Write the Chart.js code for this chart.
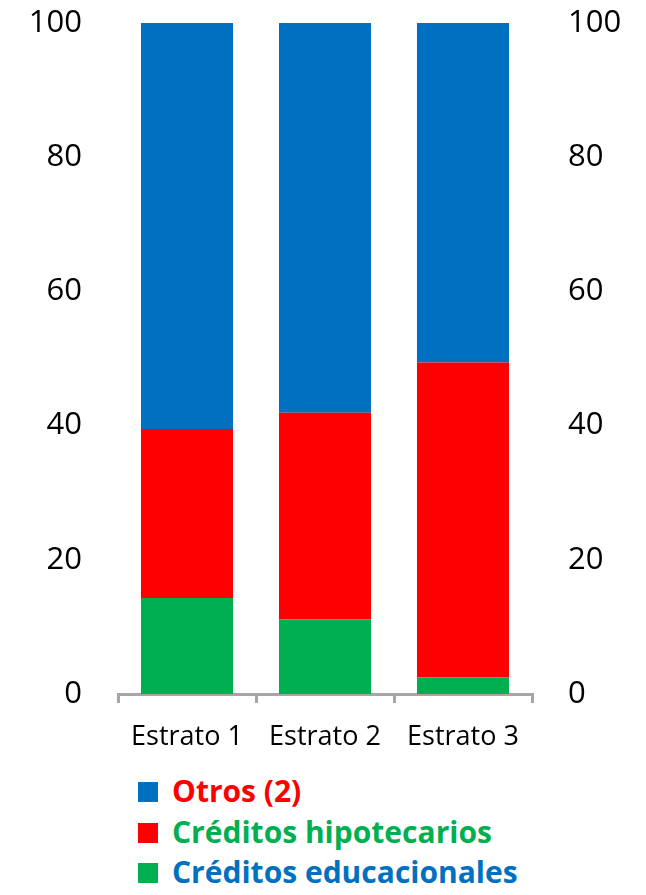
<!DOCTYPE html>
<html>
<head>
<meta charset="utf-8">
<script src="https://cdn.jsdelivr.net/npm/chart.js@4.4.1/dist/chart.umd.min.js"></script>
<style>
  body { margin: 0; background: #fff; }
  #wrap { position: relative; width: 646px; height: 895px; }
  #myCanvas { position: absolute; left: 0; top: 0; }
  .leg { position: absolute; left: 138px; font-family: "Open Sans", sans-serif; font-weight: bold; font-size: 30px; line-height: 40px; height: 40px; white-space: nowrap; }
  .leg span.box { display: inline-block; width: 20px; height: 20px; margin-right: 14px; vertical-align: 0px; }
</style>
</head>
<body>
<div id="wrap">
  <canvas id="myCanvas" width="646" height="770"></canvas>
  <div id="legend"></div>
</div>
<script>
var categories = ["Estrato 1", "Estrato 2", "Estrato 3"];
var educacionales = [14.3, 11.1, 2.5];
var hipotecarios = [25.2, 30.8, 46.9];
var otros = [60.5, 58.1, 50.6];
var yTicks = [0, 20, 40, 60, 80, 100];

var BLUE = "#0070C0", RED = "#FF0000", GREEN = "#00B050";

// legend as in the original: box colour and text colour don't match
var legendItems = [
    {label: "Otros (2)", box: BLUE, text: RED},
    {label: "Créditos hipotecarios", box: RED, text: GREEN},
    {label: "Créditos educacionales", box: GREEN, text: BLUE}
];
var legendTops = [771, 812, 852];
legendItems.forEach(function (it, i) {
    var div = document.createElement("div");
    div.className = "leg";
    div.style.top = legendTops[i] + "px";
    div.style.color = it.text;
    div.innerHTML = '<span class="box" style="background:' + it.box + '"></span>' + it.label;
    document.getElementById("wrap").appendChild(div);
});

var tickFont = {family: "'Open Sans', sans-serif", size: 31};

function yScale(position, width) {
    return {
        type: "linear",
        position: position,
        stacked: true,
        min: 0,
        max: 100,
        afterBuildTicks: function (s) {
            s.ticks = yTicks.map(function (v) { return {value: v}; });
        },
        afterFit: function (s) {
            s.width = width;
            s.paddingTop = 0;
            s.paddingBottom = 0;
        },
        grid: {display: false, drawTicks: false},
        border: {display: false},
        ticks: {color: "#000", font: tickFont, padding: 36}
    };
}

new Chart(document.getElementById("myCanvas"), {
    type: "bar",
    data: {
        labels: categories,
        datasets: [
            {label: "Créditos educacionales", data: educacionales, backgroundColor: GREEN, yAxisID: "y"},
            {label: "Créditos hipotecarios", data: hipotecarios, backgroundColor: RED, yAxisID: "y"},
            {label: "Otros (2)", data: otros, backgroundColor: BLUE, yAxisID: "y"}
        ]
    },
    options: {
        responsive: false,
        animation: false,
        layout: {padding: {top: 23, bottom: 0, left: 0, right: 0}},
        datasets: {bar: {barPercentage: 0.667, categoryPercentage: 1.0}},
        plugins: {legend: {display: false}, tooltip: {enabled: false}},
        scales: {
            x: {
                stacked: true,
                afterFit: function (s) { s.height = 76; },
                grid: {display: true, drawOnChartArea: false, drawTicks: true, tickLength: 9, color: "#A6A6A6", lineWidth: 3, offset: true},
                border: {display: true, color: "#A6A6A6", width: 3},
                ticks: {color: "#000", font: {family: "'Open Sans', sans-serif", size: 27}, padding: 18}
            },
            y: yScale("left", 118),
            y1: yScale("right", 114)
        }
    }
});
</script>
</body>
</html>
